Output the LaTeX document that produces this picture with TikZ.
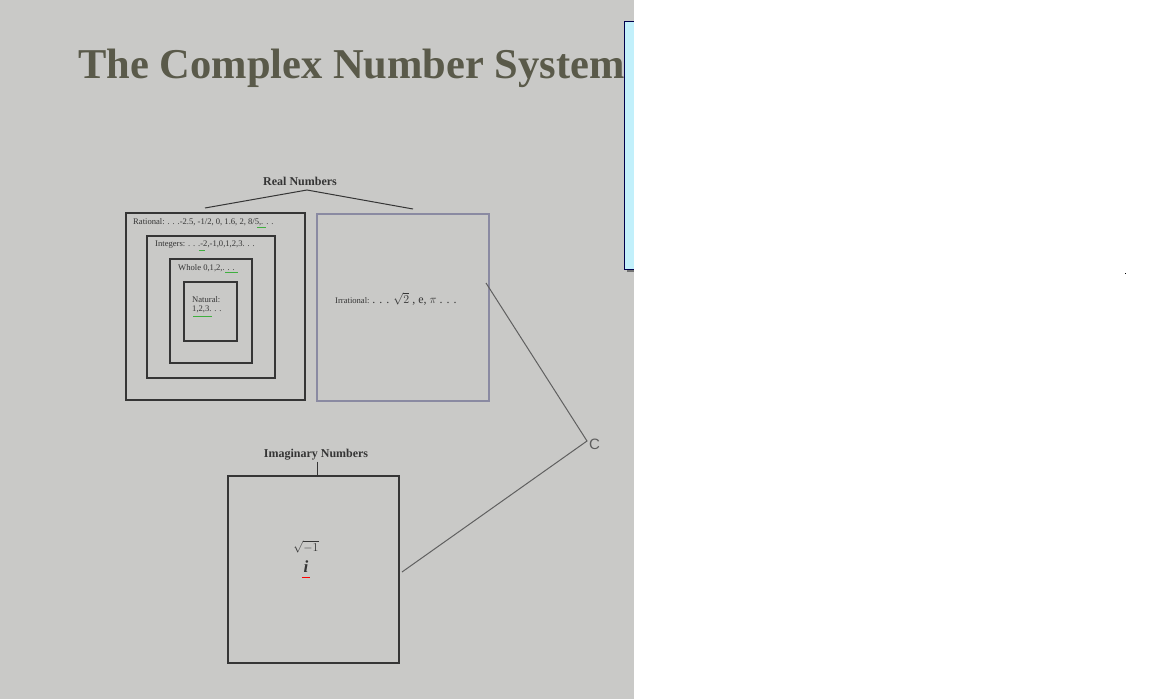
\documentclass[tikz,border=0pt]{standalone}
\usepackage{fontspec}
\setmainfont{Liberation Serif}
\newfontfamily\sansfont{Liberation Sans}
\usetikzlibrary{positioning}
\usetikzlibrary{calc}
\definecolor{slide}{HTML}{C9C9C7}
\definecolor{ink}{HTML}{353535}
\definecolor{titleink}{HTML}{5A5A4A}
\definecolor{irrline}{HTML}{8A8AA2}
\definecolor{cline}{HTML}{606060}
\definecolor{boxcyan}{HTML}{C2F0FB}
\definecolor{squig}{HTML}{3FAF3F}
\tikzset{numbox/.style = {draw = ink, line width = 1.2pt, inner sep = 0, minimum width = #1}}
\tikzset{tiny/.style = {inner sep = 0, text = ink, font = \fontsize{8.6}{9.5}\selectfont}}
\tikzset{setname/.style = {inner sep = 1, text = ink, font = \fontsize{12}{13}\selectfont\bfseries}}
\tikzset{link/.style = {draw = ink, line width = 1pt}}

\begin{document}
\begin{tikzpicture}[x = 1pt, y = -1pt]
      \useasboundingbox (0, 0) rectangle (1152, 699);
      \fill [slide] (0, 0) rectangle (634, 699);

      \node [anchor = base west, inner sep = 0, text = titleink,
             font = \fontsize{42.5}{46}\selectfont\bfseries] (title) at (78, 78) {The Complex Number System};

      % note box, cut at the slide edge
      \fill [white] (634, 0) rectangle (1152, 699);
      \fill [black!55] (627, 264) rectangle (634, 272);
      \fill [boxcyan] (624, 21) rectangle (634, 269);
      \draw [blue!30!black, line width = 1pt] (634, 21) -- (624, 21) -- (624, 269) -- (634, 269);
      \fill [black] (1124.5, 272.5) rectangle (1126, 274);

      % real numbers
      \node [numbox = 179, minimum height = 187] (rational) at (215.5, 306.5) {};
      \node [numbox = 128, minimum height = 142] (integers) at (211, 307) {};
      \node [numbox = 82, minimum height = 104] (whole) at (211, 311) {};
      \node [numbox = 53, minimum height = 59] (natural) at (210.5, 311.5) {};
      \node [numbox = 172, minimum height = 187, draw = irrline] (irrational) at (403, 307.5) {};

      \node [tiny, anchor = west] (ratlbl) at (133, 222) {Rational: . . .-2.5, -1/2, 0, 1.6, 2, 8/5,. . .};
      \node [tiny, anchor = west] (intlbl) at (155, 245) {Integers: . . .-2,-1,0,1,2,3. . .};
      \node [tiny, anchor = west] (wholelbl) at (178, 268) {Whole 0,1,2,. . .};
      \node [tiny, anchor = north west, align = left] (natlbl) at (192, 296) {Natural:\\1,2,3. . .};
      \node [tiny, anchor = west] (irrlbl) at (335, 299)
            {Irrational: {\fontsize{12}{13}\selectfont. . . $\sqrt{2}$ , e, $\pi$ . . .}};

      \draw [squig, line width = 0.6pt] (257, 227) -- (266, 227);
      \draw [squig, line width = 0.6pt] (199, 250) -- (205, 250);
      \draw [squig, line width = 0.6pt] (225, 272) -- (238, 272);
      \draw [squig, line width = 0.6pt] (193, 316) -- (212, 316);

      \node [setname] (reallbl) at (300, 181) {Real Numbers};
      \coordinate (realtop) at (307, 190);
      \coordinate (realleft) at (205, 208);
      \coordinate (realright) at (413, 209);
      \draw [link] (realleft) -- (realtop) -- (realright);

      % imaginary numbers
      \node [numbox = 171, minimum height = 187] (imaginary) at (313.5, 569.5) {};
      \node [setname] (imaglbl) at (316, 455) {Imaginary Numbers};
      \draw [link] (imaglbl.south -| 317, 0) -- (imaginary.north -| 317, 0);
      \node [text = ink, inner sep = 0, font = \fontsize{12}{13}\selectfont] (rootlbl) at (306, 547) {$\sqrt{-1}$};
      \node [text = ink, inner sep = 0, font = \fontsize{17}{18}\selectfont\bfseries\itshape] (ilbl) at (306, 567) {i};
      \draw [red, line width = 0.8pt] (302, 577) -- (310, 577);

      % complex
      \node [text = ink!80, inner sep = 0, font = \sansfont\fontsize{15}{16}\selectfont, anchor = west] (clbl) at (589, 444) {C};
      \coordinate (cvertex) at (587, 441);
      \coordinate (irrside) at (486, 283);
      \coordinate (imagside) at (402, 572);
      \draw [cline, line width = 1pt] (irrside) -- (cvertex) -- (imagside);
\end{tikzpicture}
\end{document}
